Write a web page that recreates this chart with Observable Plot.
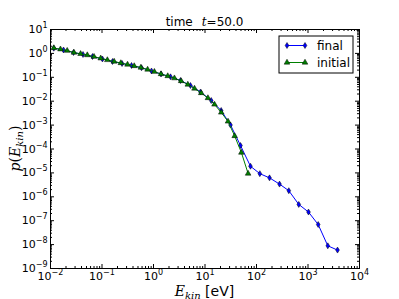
<!DOCTYPE html>
<html><head><meta charset="utf-8">
<script src="https://cdn.jsdelivr.net/npm/d3@7"></script>
<script src="https://cdn.jsdelivr.net/npm/@observablehq/plot@0.6"></script>
<style>body{margin:0;background:#fff}</style>
</head><body><div id="chart"></div>
<script>
// final distribution (blue diamonds)
const finalE = [0.0116,0.0179,0.028,0.0428,0.0654,0.102,0.160,0.245,0.374,0.585,0.914,1.40,2.14,3.34,5.22,8.18,13.2,20.6,31.3,48.9,76.4,116,179,280,424,662,1023,1578,2423,3741];
const finalP = [1.65,1.39,1.09,0.90,0.741,0.583,0.458,0.378,0.312,0.250,0.184,0.137,0.105,0.0735,0.0454,0.0243,0.0107,0.00408,0.00101,1.4e-4,1.9e-5,9.3e-6,6.2e-6,3.4e-6,1.8e-6,4.8e-7,2.3e-7,6.9e-8,8.9e-9,5.9e-9];
// initial distribution (green triangles)
const initialE = [0.0116,0.0156,0.0211,0.0285,0.0384,0.0518,0.0700,0.0944,0.127,0.172,0.232,0.313,0.422,0.569,0.768,1.04,1.40,1.89,2.55,3.44,4.64,6.25,8.44,11.4,15.3,20.7,28.0,37.7,50.9,68.7];
const initialP = [1.68,1.49,1.30,1.09,0.96,0.85,0.728,0.624,0.530,0.458,0.396,0.343,0.297,0.257,0.212,0.171,0.137,0.113,0.0917,0.070,0.050,0.034,0.022,0.0136,0.0073,0.00337,0.00142,3.5e-4,7.1e-5,9.4e-6];
const seriesNames = ["final","initial"];
const seriesColors = ["#0000ff","#008000"];
const xTicks = [1e-2,1e-1,1,1e1,1e2,1e3,1e4];
const yTicks = [1e-9,1e-8,1e-7,1e-6,1e-5,1e-4,1e-3,1e-2,1e-1,1,1e1];
const titleText = ["time", "t", "=50.0"];

const finalData = finalE.map((e,i)=>({E:e, p:finalP[i]}));
const initialData = initialE.map((e,i)=>({E:e, p:initialP[i]}));
const minorOf = ticks => ticks.slice(0,-1).flatMap(t => [2,3,4,5,6,7,8,9].map(k => k*t));
const xMinor = minorOf(xTicks), yMinor = minorOf(yTicks);

const W = 399, H = 299, mL = 50, mR = 40, mT = 29, mB = 31;
const fw = W - mL - mR, fh = H - mT - mB;

const thinDiamond = {draw(ctx, size){ const hh = Math.sqrt(size)/2*1.25, hw = hh*0.62; ctx.moveTo(0,-hh); ctx.lineTo(hw,0); ctx.lineTo(0,hh); ctx.lineTo(-hw,0); ctx.closePath(); }};
const fmt = d => "10^" + Math.round(Math.log10(d));
const rD = 2.7, rT = 2.1;

const chart = Plot.plot({
  width: W, height: H,
  marginLeft: mL, marginRight: mR, marginTop: mT, marginBottom: mB,
  x: {type: "log", domain: [1e-2, 1e4]},
  y: {type: "log", domain: [1e-9, 1e1]},
  style: {fontFamily: "DejaVu Sans", fontSize: "11px", background: "white", color: "black"},
  marks: [
    Plot.tickX(xTicks, {x: d=>d, insetTop: fh-4, stroke: "black"}),
    Plot.tickX(xTicks, {x: d=>d, insetBottom: fh-4, stroke: "black"}),
    Plot.tickX(xMinor, {x: d=>d, insetTop: fh-2, stroke: "black"}),
    Plot.tickX(xMinor, {x: d=>d, insetBottom: fh-2, stroke: "black"}),
    Plot.tickY(yTicks, {y: d=>d, insetRight: fw-4, stroke: "black"}),
    Plot.tickY(yTicks, {y: d=>d, insetLeft: fw-4, stroke: "black"}),
    Plot.tickY(yMinor, {y: d=>d, insetRight: fw-2, stroke: "black"}),
    Plot.tickY(yMinor, {y: d=>d, insetLeft: fw-2, stroke: "black"}),
    Plot.axisX({ticks: xTicks, tickSize: 0, tickPadding: 3.5, tickFormat: fmt, label: null}),
    Plot.axisY({ticks: yTicks, tickSize: 0, tickPadding: 3, tickFormat: fmt, label: null}),
    Plot.line(finalData, {x: "E", y: "p", stroke: seriesColors[0], strokeWidth: 1}),
    Plot.dot(finalData, {x: "E", y: "p", symbol: thinDiamond, r: rD, fill: seriesColors[0], stroke: "black", strokeWidth: 0.5}),
    Plot.line(initialData, {x: "E", y: "p", stroke: seriesColors[1], strokeWidth: 1}),
    Plot.dot(initialData, {x: "E", y: "p", symbol: "triangle", r: rT, fill: seriesColors[1], stroke: "black", strokeWidth: 0.5}),
    Plot.frame({stroke: "black", strokeWidth: 1})
  ]
});
document.getElementById("chart").appendChild(chart);

const svg = d3.select(chart);
// superscript tick labels
svg.selectAll("text").each(function(){
  const t = d3.select(this);
  const m = /^10\^(-?\d+)$/.exec(t.text());
  if (!m) return;
  t.text("10");
  t.append("tspan").attr("dy", -5).attr("font-size", 8).text(m[1].replace("-", "\u2212"));
});

// title
const title = svg.append("text").attr("x", mL + fw/2).attr("y", mT - 3)
  .attr("text-anchor", "middle").attr("font-family", "DejaVu Sans").attr("font-size", 12);
title.append("tspan").text(titleText[0]);
title.append("tspan").attr("dx", 9).attr("font-family", "DejaVu Serif").attr("font-style", "italic").text(titleText[1]);
title.append("tspan").text(titleText[2]);

// y label
const yl = svg.append("text").attr("transform", `translate(20,${mT + fh/2}) rotate(-90)`)
  .attr("text-anchor", "middle").attr("font-family", "DejaVu Serif").attr("font-size", 14);
yl.append("tspan").attr("font-style", "italic").text("p");
yl.append("tspan").text("(");
yl.append("tspan").attr("font-style", "italic").text("E");
yl.append("tspan").attr("font-style", "italic").attr("font-size", 10).attr("dy", 3).text("kin");
yl.append("tspan").attr("dy", -3).text(")");

// x label
const xl = svg.append("text").attr("x", mL + fw/2).attr("y", H - 3.5)
  .attr("text-anchor", "middle").attr("font-size", 14);
xl.append("tspan").attr("font-family", "DejaVu Serif").attr("font-style", "italic").text("E");
xl.append("tspan").attr("font-family", "DejaVu Serif").attr("font-style", "italic").attr("font-size", 10).attr("dy", 3).text("kin");
xl.append("tspan").attr("dy", -3).attr("font-family", "DejaVu Sans").text("\u00a0[eV]");

// legend
const lg = svg.append("g").attr("font-family", "DejaVu Sans").attr("font-size", 12).attr("text-anchor", "start");
const bx0 = mL + fw - 80, by0 = mT + 7;
lg.append("rect").attr("x", bx0).attr("y", by0).attr("width", 74).attr("height", 37)
  .attr("fill", "white").attr("stroke", "black").attr("stroke-width", 1);
seriesNames.forEach((name, i) => {
  const yy = by0 + 9.5 + i * 17;
  lg.append("line").attr("x1", bx0 + 8).attr("x2", bx0 + 26).attr("y1", yy).attr("y2", yy)
    .attr("stroke", seriesColors[i]).attr("stroke-width", 1);
  [bx0 + 8, bx0 + 26].forEach(cx => {
    const path = d3.path();
    if (i === 0) thinDiamond.draw(path, rD*rD*Math.PI); else d3.symbolTriangle.draw(path, rT*rT*Math.PI);
    lg.append("path").attr("d", path.toString()).attr("transform", `translate(${cx},${yy})`)
      .attr("fill", seriesColors[i]).attr("stroke", "black").attr("stroke-width", 0.5);
  });
  lg.append("text").attr("x", bx0 + 38).attr("y", yy + 4.2).attr("text-anchor", "start").text(name);
});
</script>
</body></html>
